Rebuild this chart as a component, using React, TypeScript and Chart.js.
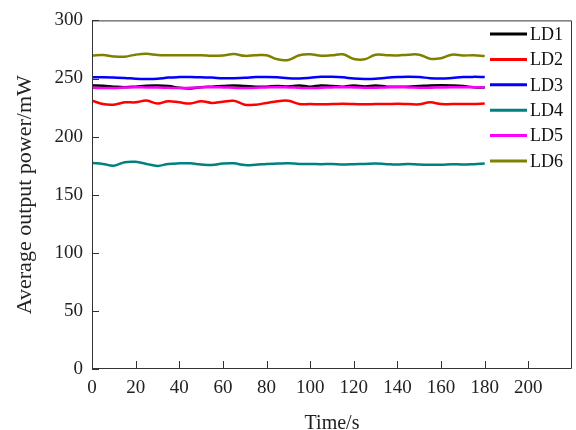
import React, { useEffect, useRef } from "react";
import { Chart, registerables } from "chart.js";

Chart.register(...registerables);

const times = [0, 5, 10, 15, 20, 25, 30, 35, 40, 45, 50, 55, 60, 65, 70, 75, 80, 85, 90, 95, 100, 105, 110, 115, 120, 125, 130, 135, 140, 145, 150, 155, 160, 165, 170, 175, 180];

const seriesNames = ["LD1", "LD2", "LD3", "LD4", "LD5", "LD6"];
const seriesColors = ["#000000", "#ff0000", "#0000ff", "#008080", "#ff00ff", "#808000"];

const ld1 = [244, 243.8, 243, 242.5, 243, 243.8, 244, 243.5, 242, 241.5, 242.5, 243, 243.5, 244, 243.5, 243, 243, 243.5, 243.2, 244, 243, 244, 243.5, 243, 244, 243.2, 244, 243, 242.8, 243, 243.5, 244, 244.2, 244, 243.5, 242.5, 242.3];
const ld2 = [231, 228, 227.5, 229.5, 229.5, 231, 228.5, 230.5, 229.5, 228.5, 230.5, 229, 230, 230.8, 227.5, 227.5, 229, 230.5, 230.8, 228, 228, 227.8, 228, 228.2, 228, 227.8, 228, 228, 228.2, 228, 227.8, 229.5, 228, 228, 228, 228, 228.5];
const ld3 = [251, 251, 250.8, 250.5, 249.8, 249.6, 249.8, 250.8, 251.2, 251.3, 251, 250.8, 250.2, 250.3, 250.6, 251.2, 251.3, 251, 250.2, 250, 250.6, 251.5, 251.5, 251, 250, 249.6, 249.8, 250.6, 251.2, 251.6, 251.2, 250.3, 250, 250.5, 251.2, 251.4, 251.3];
const ld4 = [177.2, 176.5, 175, 178, 178.3, 176.5, 174.8, 176.5, 177, 177, 176, 175.5, 176.8, 177, 175.5, 175.8, 176.5, 176.8, 177, 176.5, 176.5, 176.3, 176.5, 176, 176.3, 176.5, 176.8, 176.3, 176, 176.5, 176, 175.8, 175.8, 176.3, 176, 176.3, 176.8];
const ld5 = [242, 241.8, 241.8, 242.2, 242.5, 242.3, 242.3, 242, 241.8, 242, 242.3, 242.5, 242.3, 242, 241.8, 242, 242.3, 242.5, 242.3, 242, 241.8, 242, 242.3, 242.5, 242.3, 242, 242, 242.3, 242.5, 242.3, 242, 242, 242.3, 242.5, 242.5, 242.5, 242.3];
const ld6 = [269.8, 270.3, 269, 268.8, 270.5, 271.2, 270.3, 270, 270, 270, 270, 269.5, 269.8, 271, 269.5, 270, 270, 266.5, 266, 270, 270.8, 269.5, 270, 270.8, 266.8, 266.5, 270.5, 270, 269.8, 270.5, 270.5, 267, 267.5, 270.5, 269.8, 270, 269.3];

const allSeries = [ld1, ld2, ld3, ld4, ld5, ld6];
const xTickValues = [0, 20, 40, 60, 80, 100, 120, 140, 160, 180, 200];
const yTickValues = [0, 50, 100, 150, 200, 250, 300];

const FONT = "'Liberation Serif', 'Times New Roman', serif";

const framePlugin = {
  id: "frameAndLegend",
  afterDraw(chart: any) {
    const { ctx, chartArea } = chart;
    const { left, right, top, bottom } = chartArea;
    const xs = chart.scales.x;
    const ys = chart.scales.y;
    ctx.save();
    ctx.strokeStyle = "#333333";
    ctx.lineWidth = 1;
    ctx.beginPath();
    ctx.moveTo(left + 0.5, top + 0.5);
    ctx.lineTo(right - 0.5, top + 0.5);
    ctx.lineTo(right - 0.5, bottom - 0.5);
    ctx.lineTo(left + 0.5, bottom - 0.5);
    ctx.closePath();
    ctx.stroke();
    ctx.beginPath();
    xs.ticks.forEach((t: any) => {
      const px = Math.round(xs.getPixelForValue(t.value)) + 0.5;
      ctx.moveTo(px, bottom);
      ctx.lineTo(px, bottom - 8);
    });
    ys.ticks.forEach((t: any) => {
      const py = Math.round(ys.getPixelForValue(t.value)) + 0.5;
      ctx.moveTo(left, py);
      ctx.lineTo(left + 7, py);
    });
    ctx.stroke();

    // legend
    ctx.font = `18px ${FONT}`;
    ctx.textBaseline = "middle";
    ctx.textAlign = "left";
    chart.data.datasets.forEach((ds: any, i: number) => {
      const yy = 34 + i * 25.4;
      ctx.strokeStyle = ds.borderColor;
      ctx.lineWidth = 3;
      ctx.beginPath();
      ctx.moveTo(490, yy);
      ctx.lineTo(527, yy);
      ctx.stroke();
      ctx.fillStyle = "#111111";
      ctx.fillText(ds.label, 530, yy + 1);
    });
    ctx.restore();
  },
};

export default function App() {
  const ref = useRef<HTMLCanvasElement>(null);

  useEffect(() => {
    document.body.style.margin = "0";
    const canvas = ref.current;
    if (!canvas) return;
    const datasets = allSeries.map((arr, i) => ({
      label: seriesNames[i],
      data: times.map((t, j) => ({ x: t, y: arr[j] })),
      borderColor: seriesColors[i],
      backgroundColor: seriesColors[i],
      borderWidth: 2.5,
      pointRadius: 0,
      tension: 0.4,
      fill: false,
      order: 10 - i,
    }));
    const chart = new Chart(canvas, {
      type: "line",
      data: { datasets },
      options: {
        responsive: false,
        animation: false,
        layout: { padding: { top: 17, right: 4, left: 0, bottom: 0 } },
        plugins: {
          legend: { display: false },
          tooltip: { enabled: false },
        },
        scales: {
          x: {
            type: "linear",
            min: 0,
            max: 220,
            grid: { display: false, drawTicks: false },
            border: { display: false },
            afterBuildTicks: (scale: any) => {
              scale.ticks = xTickValues.map((v) => ({ value: v }));
            },
            afterFit: (scale: any) => {
              scale.height = 61;
            },
            ticks: {
              padding: 8,
              maxRotation: 0,
              autoSkip: false,
              color: "#222222",
              font: { family: FONT, size: 19 },
            },
            title: {
              display: true,
              text: "Time/s",
              color: "#222222",
              font: { family: FONT, size: 20, lineHeight: 0.6 },
              padding: { top: 0, bottom: 0 },
            },
          },
          y: {
            type: "linear",
            min: 0,
            max: 300,
            grid: { display: false, drawTicks: false },
            border: { display: false },
            afterBuildTicks: (scale: any) => {
              scale.ticks = yTickValues.map((v) => ({ value: v }));
            },
            afterFit: (scale: any) => {
              scale.width = 92;
            },
            ticks: {
              padding: 9,
              autoSkip: false,
              color: "#222222",
              font: { family: FONT, size: 19 },
            },
            title: {
              display: true,
              text: "Average output power/mW",
              color: "#222222",
              font: { family: FONT, size: 22, lineHeight: 1 },
              padding: { top: 14, bottom: 0 },
            },
          },
        },
      },
      plugins: [framePlugin],
    } as any);
    return () => chart.destroy();
  }, []);

  return (
    <div style={{ width: 576, height: 430 }}>
      <canvas ref={ref} width={576} height={430} style={{ display: "block" }} />
    </div>
  );
}
